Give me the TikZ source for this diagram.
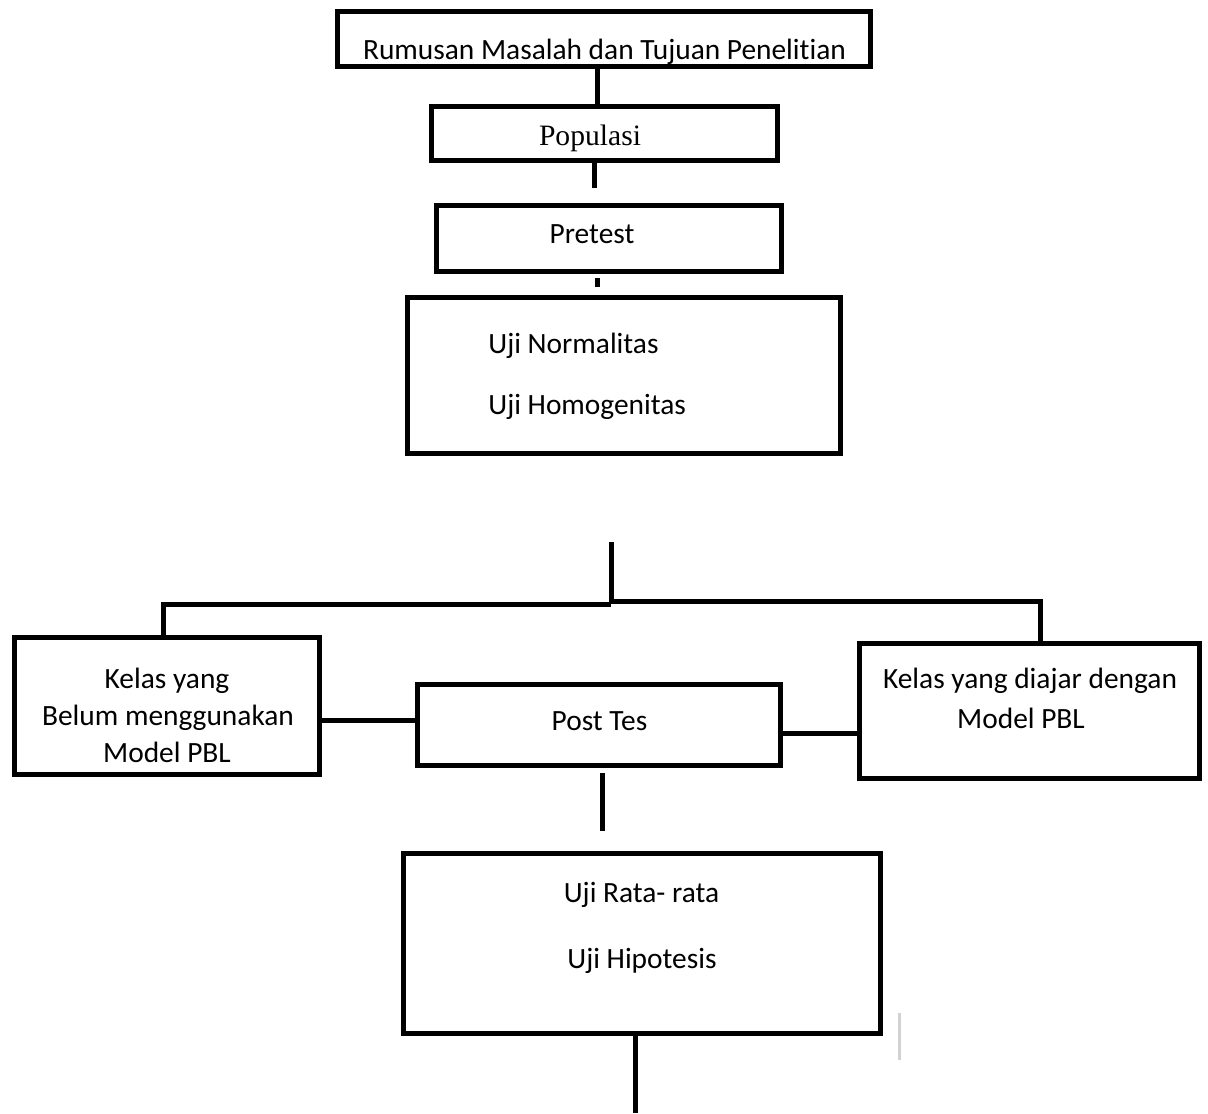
\documentclass[tikz,border=0pt]{standalone}
\usepackage{fontspec}
\setmainfont[Ligatures=NoCommon]{Carlito}
\newfontfamily\timesfont{Liberation Serif}
\begin{document}
\begin{tikzpicture}[x=0.5pt, y=-0.5pt,
	box/.style={draw, line width=2.5pt, inner sep=0pt},
	lbl/.style={inner sep=0pt, anchor=base, font=\fontsize{14.7}{17}\selectfont},
	link/.style={line width=2.5pt},
	faint/.style={line width=1.5pt, gray!35}]
	\useasboundingbox (0, 0) rectangle (1208, 1113);
	\node[box, minimum width=266.5pt, minimum height=27.5pt] (0) at (604, 39) {};
	\node[box, minimum width=173pt, minimum height=27pt] (1) at (604.5, 133.5) {};
	\node[box, minimum width=172.5pt, minimum height=33pt] (2) at (609, 238.5) {};
	\node[box, minimum width=216.5pt, minimum height=78pt] (3) at (624, 375.5) {};
	\node[box, minimum width=152.5pt, minimum height=68.5pt] (4) at (167, 706) {};
	\node[box, minimum width=181.5pt, minimum height=40.5pt] (5) at (599, 725) {};
	\node[box, minimum width=170pt, minimum height=67.5pt] (6) at (1029.5, 711) {};
	\node[box, minimum width=238.5pt, minimum height=90pt] (7) at (642, 943.5) {};
	\node[lbl] (8) at (604.5, 60) {Rumusan Masalah dan Tujuan Penelitian};
	\node[lbl, font=\timesfont\fontsize{14.8}{17}\selectfont] (9) at (590, 145) {Populasi};
	\node[lbl] (10) at (592, 243) {Pretest};
	\node[lbl, anchor=base west] (11) at (488, 353) {Uji Normalitas};
	\node[lbl, anchor=base west] (12) at (488, 414) {Uji Homogenitas};
	\node[lbl] (13) at (167, 688) {Kelas yang};
	\node[lbl] (14) at (168, 725) {Belum menggunakan};
	\node[lbl] (15) at (167, 762) {Model PBL};
	\node[lbl] (16) at (599.5, 730) {Post Tes};
	\node[lbl] (17) at (1030, 688) {Kelas yang diajar dengan};
	\node[lbl] (18) at (1021, 728) {Model PBL};
	\node[lbl] (19) at (641.5, 902) {Uji Rata- rata};
	\node[lbl] (20) at (642, 968) {Uji Hipotesis};
	\coordinate (21) at (597, 0);
	\coordinate (22) at (594, 188);
	\coordinate (23) at (597, 278);
	\coordinate (24) at (597, 287);
	\coordinate (25) at (611, 542);
	\coordinate (26) at (611, 604);
	\coordinate (27) at (611, 601);
	\coordinate (28) at (163, 604);
	\coordinate (29) at (1040, 601);
	\coordinate (30) at (370, 720);
	\coordinate (31) at (820, 733);
	\coordinate (32) at (602, 773);
	\coordinate (33) at (602, 831);
	\coordinate (34) at (635, 1113);
	\coordinate (35) at (899, 1013);
	\coordinate (36) at (899, 1060);
	\draw[link] (0.south -| 21) to (1.north -| 21);
	\draw[link] (1.south -| 22) to (22);
	\draw[link] (23) to (24);
	\draw[link] (25) to (26);
	\draw[link] (4.north -| 28) to (28) to (26);
	\draw[link] (27) to (29) to (6.north -| 29);
	\draw[link] (4.east |- 30) to (5.west |- 30);
	\draw[link] (5.east |- 31) to (6.west |- 31);
	\draw[link] (32) to (33);
	\draw[link] (7.south -| 34) to (34);
	\draw[faint] (35) to (36);
\end{tikzpicture}
\end{document}
